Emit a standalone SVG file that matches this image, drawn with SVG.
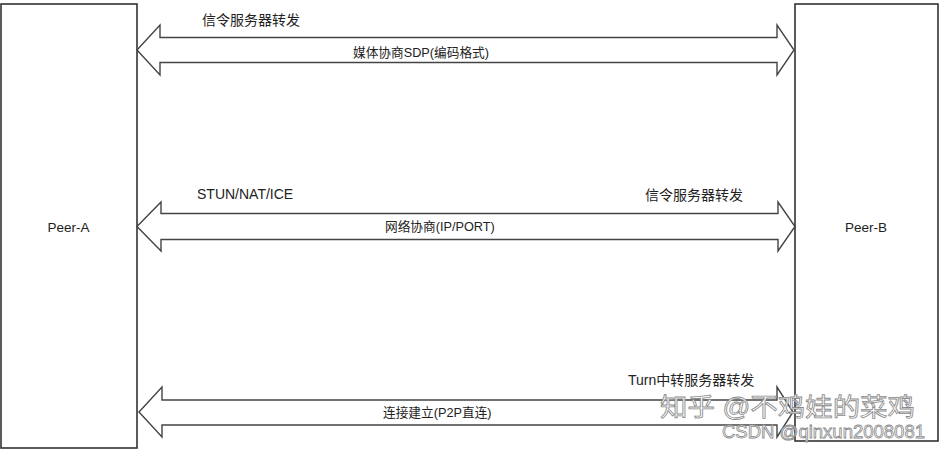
<svg xmlns="http://www.w3.org/2000/svg" width="940" height="449" viewBox="0 0 940 449">
<style>
.node{fill:#ffffff;stroke:#333333;stroke-width:1.6}
.arrow{fill:#ffffff;stroke:#444444;stroke-width:1.4;stroke-linejoin:miter}
.t{font-family:"Liberation Sans","Noto Sans CJK SC",sans-serif;fill:#222222}
.lbl{font-size:14px}
.sm{font-size:12.7px}
.nl{font-size:13.5px;text-anchor:middle}
.wm{font-family:"Liberation Sans","Noto Sans CJK SC",sans-serif;fill:#ffffff;stroke:#8a8a8a;stroke-width:0.8}
</style>
<rect width="940" height="449" fill="#ffffff"/>
<g id="peer-a">
<rect class="node" x="1" y="4" width="136" height="444"/>
<text class="t nl" x="68.5" y="231.5">Peer-A</text>
</g>
<g id="peer-b">
<rect class="node" x="795" y="4" width="143" height="437"/>
<text class="t nl" x="866" y="231.5">Peer-B</text>
</g>
<g id="connectors">
<polygon class="arrow" points="137,50 160,25 160,37.5 777,37.5 777,25 794,50 777,75 777,62.5 160,62.5 160,75"/>
<polygon class="arrow" points="137,226.5 161,202 161,213.5 778,213.5 778,202 795,226.5 778,251 778,239.5 161,239.5 161,251"/>
<polygon class="arrow" points="139,412 162,387 162,400 777,400 777,387 793,412 777,437 777,425 162,425 162,437"/>
<text class="t lbl" x="202" y="25">信令服务器转发</text>
<text class="t sm" x="353" y="56.5">媒体协商SDP(编码格式)</text>
<text class="t lbl" x="197" y="199">STUN/NAT/ICE</text>
<text class="t lbl" x="645" y="200">信令服务器转发</text>
<text class="t sm" x="385" y="230.5">网络协商(IP/PORT)</text>
<text class="t lbl" x="628" y="385" font-size="13.5">Turn中转服务器转发</text>
<text class="t sm" x="383" y="416.5">连接建立(P2P直连)</text>
</g>
<g id="watermark">
<text class="wm" x="660" y="416" font-size="25" textLength="255" lengthAdjust="spacingAndGlyphs">知乎 @不鸡娃的菜鸡</text>
<text class="wm" x="722" y="438" font-size="18" textLength="203" lengthAdjust="spacingAndGlyphs">CSDN @qinxun2008081</text>
</g>
</svg>
